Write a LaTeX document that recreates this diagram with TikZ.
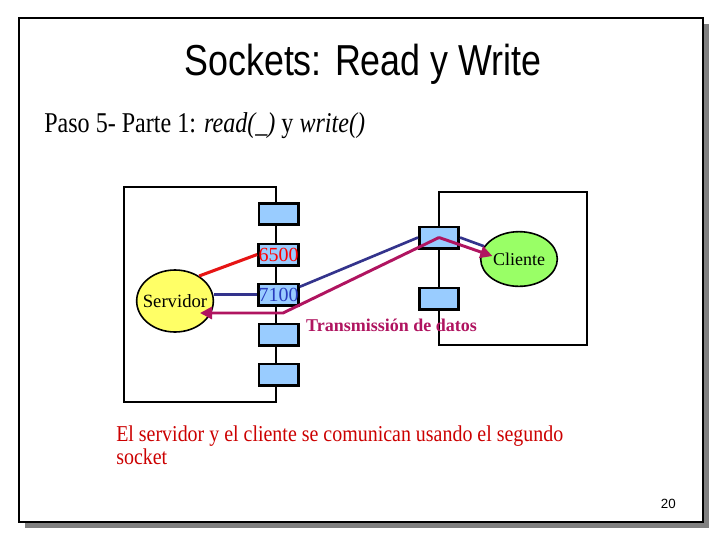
\documentclass[tikz,border=0pt]{standalone}
\usepackage{fontspec}
\setmainfont{Liberation Serif}
\newfontfamily\arialf{Liberation Sans}
\usetikzlibrary{arrows.meta,calc,shapes.geometric}
\definecolor{sockblue}{RGB}{153,204,255}
\definecolor{servyellow}{RGB}{255,255,102}
\definecolor{cligreen}{RGB}{153,255,102}
\definecolor{navy}{RGB}{51,51,140}
\definecolor{magline}{RGB}{176,20,96}
\definecolor{bodyred}{RGB}{204,0,0}
\definecolor{portblue}{RGB}{40,60,190}
\definecolor{linkred}{RGB}{230,20,20}
\definecolor{shadowgray}{RGB}{128,128,128}
\newcommand{\hsq}[2]{\scalebox{#1}[1]{#2}}
\begin{document}
\begin{tikzpicture}[x=0.75pt,y=-0.75pt,
  sock/.style={draw=black,line width=2pt,fill=sockblue,minimum width=29.5pt,minimum height=16pt,inner sep=0pt},
  host/.style={draw=black,ellipse,line width=1.2pt,inner sep=0pt},
  navyline/.style={draw=navy,line width=2pt},
  magarrow/.style={draw=magline,line width=2.2pt,line join=round,-{Triangle[length=9pt,width=9pt]}},
  lbl/.style={inner sep=0pt}]
\useasboundingbox (0,0) rectangle (720,540);
% slide frame with shadow
\fill[shadowgray] (25,24) rectangle (709,528);
\draw[fill=white,line width=1.5pt] (19,18) rectangle (703,522);
% texts
\node[lbl,anchor=base,font=\arialf\fontsize{32.5}{36}\selectfont] (title) at (363,75) {\hsq{0.827}{Sockets: Read y Write}};
\node[lbl,anchor=base west,font=\fontsize{21.5}{24}\selectfont] (sub) at (44,132) {\hsq{0.84}{Paso 5- Parte 1: \textit{read(\_)} y \textit{write()}}};
\node[lbl,anchor=base west,text=bodyred,font=\fontsize{17}{17.5}\selectfont] (body) at (116,441.5) {\hsq{0.88}{\begin{tabular}[t]{@{}l@{}}El servidor y el cliente se comunican usando el segundo\\socket\end{tabular}}};
\node[lbl,anchor=base east,font=\arialf\fontsize{10}{12}\selectfont] (pnum) at (676,508) {20};
% boxes
\draw[line width=1.9pt] (124,187) rectangle (276,402);
\draw[line width=0.8pt] (439,192) rectangle (587,345);
% server sockets
\node[sock] (s1) at (278.5,214) {};
\node[sock,text=red,font=\fontsize{15}{16}\selectfont] (s2) at (278.5,254.5) {6500};
\node[sock,text=portblue,font=\fontsize{15}{16}\selectfont] (s3) at (278.5,294.5) {7100};
\node[sock] (s4) at (278.5,334.5) {};
\node[sock] (s5) at (278.5,374.5) {};
% client sockets
\node[sock] (c1) at (439,237.5) {};
\node[sock] (c2) at (439,298.5) {};
% hosts
\node[host,fill=servyellow,minimum width=57.5pt,minimum height=46.5pt,font=\fontsize{14}{16}\selectfont] (serv) at (175,301) {\makebox[0pt]{Servidor}};
\node[host,fill=cligreen,minimum width=57.5pt,minimum height=41pt,font=\fontsize{13.5}{16}\selectfont] (cli) at (519,259) {\makebox[0pt]{Cliente}};
% label
\node[lbl,text=magline,font=\bfseries\fontsize{13.5}{16}\selectfont] (tx) at (391.5,325) {Transmissión de datos};
% connectors
\draw[linkred,line width=2.3pt] (serv.46) -- (s2.west);
\draw[navyline] (s3.west) -- (serv.east |- s3.west);
\draw[navyline] (s3.20) -- (c1.west);
\draw[navyline] (c1.east) -- (cli);
\coordinate (bend) at (283,313);
\draw[magarrow] (c1.center) -- ($(cli.west)+(12.5,-3)$);
\draw[magarrow] (c1.center) -- (bend) -- ($(serv.center)+(25,12)$);
\end{tikzpicture}
\end{document}
